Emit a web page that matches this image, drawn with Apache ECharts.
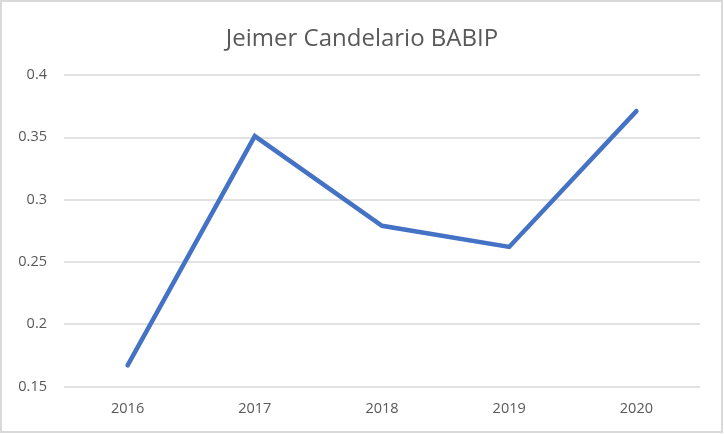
<!DOCTYPE html>
<html>
<head>
<meta charset="utf-8">
<script src="https://cdn.jsdelivr.net/npm/echarts@6/dist/echarts.min.js"></script>
<style>
html,body{margin:0;padding:0;background:#fff;}
#c{width:724px;height:434px;}
</style>
</head>
<body>
<div id="c"></div>
<script>
const titleText = "Jeimer Candelario BABIP";
const years = ["2016", "2017", "2018", "2019", "2020"];
const babip = [0.167, 0.351, 0.279, 0.262, 0.371];
const yTicks = { min: 0.15, max: 0.4, interval: 0.05 };

const chart = echarts.init(document.getElementById('c'));
chart.setOption({
  animation: false,
  backgroundColor: '#ffffff',
  title: {
    text: titleText,
    left: 'center',
    top: 22,
    textStyle: { fontFamily: 'Open Sans', fontSize: 24, fontWeight: 'normal', color: '#595959' }
  },
  graphic: [{
    type: 'rect',
    shape: { x: 1, y: 1, width: 721, height: 431 },
    style: { fill: 'none', stroke: '#d9d9d9', lineWidth: 2 },
    silent: true
  }],
  grid: { left: 64, right: 24, top: 75, bottom: 47.5, containLabel: false },
  xAxis: {
    type: 'category',
    data: years,
    boundaryGap: true,
    axisLine: { show: false },
    axisTick: { show: false },
    axisLabel: { margin: 15, fontFamily: 'Open Sans', fontSize: 14.5, color: '#595959' }
  },
  yAxis: {
    type: 'value',
    min: yTicks.min,
    max: yTicks.max,
    interval: yTicks.interval,
    axisLine: { show: false },
    axisTick: { show: false },
    axisLabel: {
      margin: 17,
      fontFamily: 'Open Sans',
      fontSize: 14.5,
      color: '#595959',
      formatter: v => String(parseFloat(v.toFixed(2)))
    },
    splitLine: { lineStyle: { color: '#d9d9d9', width: 1.5 } }
  },
  series: [{
    type: 'line',
    data: babip,
    symbol: 'none',
    lineStyle: { color: '#4472C4', width: 4.5, cap: 'round', join: 'miter' }
  }]
});
</script>
</body>
</html>
